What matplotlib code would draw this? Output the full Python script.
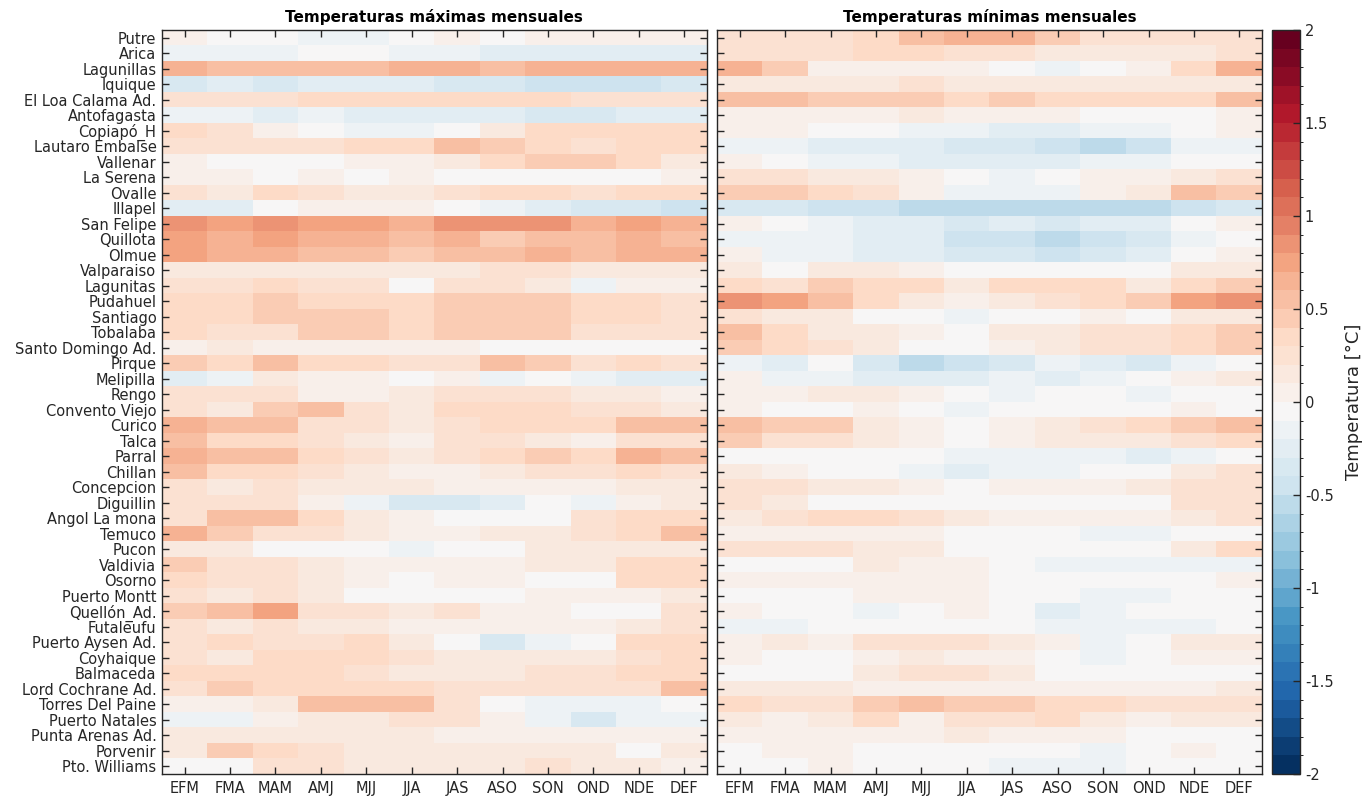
import matplotlib
matplotlib.use('Agg')
import matplotlib.pyplot as plt
import numpy as np
from matplotlib.colors import ListedColormap, BoundaryNorm

from matplotlib import rcParams
rcParams['font.family'] = 'DejaVu Sans'
rcParams['font.size'] = 10

estaciones = ['Putre', 'Arica', 'Lagunillas', 'Iquique', 'El Loa Calama Ad.', 'Antofagasta',
              'Copiapó_H', 'Lautaro Embalse', 'Vallenar', 'La Serena', 'Ovalle', 'Illapel',
              'San Felipe', 'Quillota', 'Olmue', 'Valparaiso', 'Lagunitas', 'Pudahuel',
              'Santiago', 'Tobalaba', 'Santo Domingo Ad.', 'Pirque', 'Melipilla', 'Rengo',
              'Convento Viejo', 'Curico', 'Talca', 'Parral', 'Chillan', 'Concepcion',
              'Diguillin', 'Angol La mona', 'Temuco', 'Pucon', 'Valdivia', 'Osorno',
              'Puerto Montt', 'Quellón_Ad.', 'Futaleufu', 'Puerto Aysen Ad.', 'Coyhaique',
              'Balmaceda', 'Lord Cochrane Ad.', 'Torres Del Paine', 'Puerto Natales',
              'Punta Arenas Ad.', 'Porvenir', 'Pto. Williams']

trimestres = ['EFM', 'FMA', 'MAM', 'AMJ', 'MJJ', 'JJA', 'JAS', 'ASO', 'SON', 'OND', 'NDE', 'DEF']

# anomalias de temperatura maxima (°C), una fila por estacion
tmax = [
    [0.05, -0.05, -0.05, -0.15, -0.15, -0.05, 0.05, -0.05, 0.05, 0.05, 0.05, 0.05],
    [-0.15, -0.15, -0.15, -0.05, -0.05, -0.15, -0.15, -0.25, -0.25, -0.25, -0.25, -0.25],
    [0.65, 0.55, 0.55, 0.55, 0.55, 0.65, 0.65, 0.55, 0.65, 0.65, 0.65, 0.65],
    [-0.35, -0.25, -0.35, -0.25, -0.25, -0.25, -0.35, -0.35, -0.45, -0.45, -0.45, -0.35],
    [0.25, 0.25, 0.25, 0.35, 0.35, 0.35, 0.35, 0.35, 0.35, 0.25, 0.25, 0.25],
    [-0.15, -0.15, -0.25, -0.15, -0.25, -0.25, -0.25, -0.25, -0.35, -0.35, -0.25, -0.25],
    [0.35, 0.25, 0.05, -0.05, -0.15, -0.15, -0.05, 0.15, 0.35, 0.35, 0.35, 0.35],
    [0.25, 0.25, 0.25, 0.25, 0.35, 0.35, 0.55, 0.45, 0.35, 0.25, 0.35, 0.35],
    [0.05, -0.05, -0.05, -0.05, 0.05, 0.05, 0.15, 0.35, 0.45, 0.45, 0.35, 0.15],
    [0.05, 0.05, -0.05, 0.05, -0.05, 0.05, -0.05, -0.05, -0.05, -0.05, -0.05, 0.05],
    [0.25, 0.15, 0.35, 0.25, 0.15, 0.15, 0.25, 0.35, 0.35, 0.25, 0.35, 0.35],
    [-0.25, -0.25, -0.05, 0.05, 0.05, 0.05, -0.05, -0.15, -0.25, -0.35, -0.35, -0.45],
    [0.85, 0.75, 0.85, 0.75, 0.75, 0.65, 0.85, 0.85, 0.85, 0.65, 0.75, 0.65],
    [0.75, 0.65, 0.75, 0.65, 0.65, 0.55, 0.65, 0.45, 0.55, 0.55, 0.65, 0.55],
    [0.75, 0.65, 0.65, 0.55, 0.55, 0.45, 0.55, 0.55, 0.65, 0.55, 0.65, 0.65],
    [0.15, 0.15, 0.15, 0.15, 0.15, 0.15, 0.15, 0.25, 0.25, 0.15, 0.15, 0.15],
    [0.25, 0.25, 0.35, 0.25, 0.25, -0.05, 0.25, 0.25, 0.15, -0.15, 0.05, 0.05],
    [0.35, 0.35, 0.45, 0.35, 0.35, 0.35, 0.45, 0.45, 0.45, 0.35, 0.35, 0.25],
    [0.35, 0.35, 0.45, 0.45, 0.45, 0.35, 0.45, 0.45, 0.45, 0.35, 0.35, 0.25],
    [0.35, 0.25, 0.25, 0.45, 0.45, 0.35, 0.45, 0.45, 0.45, 0.25, 0.25, 0.25],
    [0.05, 0.15, 0.05, 0.05, 0.05, 0.05, 0.05, -0.05, -0.05, -0.05, -0.05, -0.05],
    [0.45, 0.35, 0.55, 0.35, 0.35, 0.25, 0.25, 0.55, 0.45, 0.25, 0.35, 0.25],
    [-0.25, -0.15, 0.15, 0.05, 0.05, -0.05, 0.05, -0.15, -0.05, -0.15, -0.25, -0.25],
    [0.25, 0.25, 0.25, 0.05, 0.05, 0.15, 0.25, 0.25, 0.25, 0.15, 0.15, 0.05],
    [0.25, 0.15, 0.45, 0.55, 0.25, 0.15, 0.35, 0.35, 0.35, 0.25, 0.25, 0.15],
    [0.65, 0.55, 0.55, 0.25, 0.25, 0.15, 0.25, 0.35, 0.35, 0.35, 0.55, 0.55],
    [0.55, 0.35, 0.35, 0.25, 0.15, 0.05, 0.25, 0.25, 0.15, 0.05, 0.25, 0.25],
    [0.65, 0.55, 0.55, 0.35, 0.25, 0.15, 0.25, 0.35, 0.45, 0.35, 0.65, 0.55],
    [0.55, 0.35, 0.35, 0.25, 0.15, 0.05, 0.05, 0.15, 0.25, 0.25, 0.35, 0.25],
    [0.25, 0.15, 0.25, 0.15, 0.15, 0.15, 0.05, 0.05, 0.05, 0.05, 0.15, 0.15],
    [0.25, 0.25, 0.25, 0.05, -0.15, -0.35, -0.35, -0.25, -0.05, -0.15, 0.05, 0.15],
    [0.25, 0.55, 0.55, 0.35, 0.15, 0.05, -0.05, -0.05, -0.05, 0.25, 0.35, 0.35],
    [0.65, 0.45, 0.25, 0.25, 0.15, 0.05, 0.05, 0.15, 0.15, 0.25, 0.35, 0.55],
    [0.15, 0.15, -0.05, -0.05, -0.05, -0.15, -0.05, -0.05, 0.15, 0.15, 0.15, 0.15],
    [0.45, 0.25, 0.25, 0.15, 0.05, 0.05, 0.05, 0.05, 0.15, 0.15, 0.35, 0.35],
    [0.35, 0.25, 0.25, 0.15, 0.05, -0.05, 0.05, 0.05, -0.05, -0.05, 0.35, 0.35],
    [0.25, 0.15, 0.25, 0.15, -0.05, -0.05, -0.05, -0.05, 0.05, 0.05, 0.05, 0.15],
    [0.45, 0.55, 0.75, 0.25, 0.25, 0.15, 0.25, 0.05, 0.05, -0.05, -0.05, 0.25],
    [0.25, 0.15, 0.25, 0.15, 0.15, 0.05, 0.05, 0.05, 0.05, 0.05, 0.15, 0.25],
    [0.25, 0.35, 0.25, 0.25, 0.35, 0.15, -0.05, -0.35, -0.15, -0.05, 0.35, 0.35],
    [0.25, 0.15, 0.35, 0.35, 0.35, 0.25, 0.15, 0.15, 0.15, 0.15, 0.25, 0.35],
    [0.35, 0.35, 0.35, 0.35, 0.25, 0.15, 0.15, 0.15, 0.25, 0.25, 0.35, 0.35],
    [0.25, 0.45, 0.35, 0.35, 0.35, 0.35, 0.25, 0.25, 0.25, 0.25, 0.25, 0.55],
    [0.05, 0.05, 0.15, 0.55, 0.55, 0.55, 0.25, -0.05, -0.15, -0.15, -0.15, -0.05],
    [-0.15, -0.15, 0.05, 0.15, 0.15, 0.25, 0.25, 0.05, -0.15, -0.35, -0.15, -0.15],
    [0.15, 0.15, 0.15, 0.15, 0.15, 0.15, 0.05, 0.05, 0.05, 0.05, 0.05, 0.05],
    [0.15, 0.45, 0.35, 0.25, 0.15, 0.15, 0.15, 0.15, 0.15, 0.15, -0.05, 0.15],
    [-0.05, -0.05, 0.25, 0.25, 0.15, 0.15, 0.15, 0.15, 0.25, 0.15, 0.15, 0.05],
]

# anomalias de temperatura minima (°C)
tmin = [
    [0.25, 0.25, 0.25, 0.35, 0.55, 0.65, 0.65, 0.45, 0.25, 0.25, 0.25, 0.25],
    [0.25, 0.25, 0.25, 0.35, 0.35, 0.25, 0.25, 0.15, 0.15, 0.15, 0.15, 0.25],
    [0.65, 0.45, 0.05, 0.05, 0.05, 0.05, -0.05, -0.15, -0.05, 0.05, 0.35, 0.65],
    [0.15, 0.15, 0.15, 0.15, 0.25, 0.15, 0.15, 0.15, 0.15, 0.15, 0.15, 0.15],
    [0.55, 0.55, 0.45, 0.45, 0.45, 0.35, 0.45, 0.35, 0.35, 0.35, 0.35, 0.55],
    [0.05, 0.05, 0.05, 0.05, 0.15, 0.05, 0.05, 0.05, -0.05, -0.05, -0.05, 0.05],
    [0.05, 0.05, -0.05, -0.05, -0.15, -0.15, -0.25, -0.25, -0.15, -0.15, -0.05, 0.05],
    [-0.15, -0.15, -0.25, -0.25, -0.25, -0.35, -0.35, -0.45, -0.55, -0.45, -0.15, -0.15],
    [0.05, -0.05, -0.15, -0.15, -0.25, -0.25, -0.25, -0.25, -0.15, -0.15, -0.05, -0.05],
    [0.25, 0.25, 0.15, 0.15, 0.05, -0.05, -0.15, -0.05, 0.05, 0.05, 0.15, 0.25],
    [0.45, 0.45, 0.35, 0.25, 0.05, -0.15, -0.15, -0.15, 0.05, 0.15, 0.55, 0.45],
    [-0.35, -0.35, -0.45, -0.45, -0.55, -0.55, -0.55, -0.55, -0.55, -0.55, -0.45, -0.35],
    [0.05, -0.05, -0.15, -0.25, -0.25, -0.35, -0.25, -0.35, -0.25, -0.25, -0.05, 0.05],
    [-0.15, -0.15, -0.15, -0.25, -0.25, -0.45, -0.45, -0.55, -0.45, -0.35, -0.15, -0.05],
    [0.05, -0.15, -0.15, -0.25, -0.25, -0.35, -0.35, -0.45, -0.35, -0.25, -0.05, 0.05],
    [0.15, -0.05, 0.15, 0.15, 0.05, -0.05, -0.05, -0.05, -0.05, -0.05, 0.15, 0.15],
    [0.35, 0.25, 0.45, 0.35, 0.35, 0.15, 0.35, 0.35, 0.35, 0.15, 0.35, 0.45],
    [0.85, 0.75, 0.55, 0.35, 0.15, 0.05, 0.15, 0.25, 0.35, 0.45, 0.75, 0.85],
    [0.25, 0.15, 0.15, -0.05, -0.05, -0.15, -0.05, -0.05, 0.05, -0.05, 0.15, 0.15],
    [0.55, 0.35, 0.15, 0.15, 0.05, -0.05, 0.15, 0.15, 0.25, 0.25, 0.35, 0.45],
    [0.45, 0.35, 0.25, 0.15, -0.05, -0.05, 0.05, 0.15, 0.25, 0.25, 0.35, 0.45],
    [-0.15, -0.25, -0.05, -0.35, -0.55, -0.45, -0.35, -0.15, -0.25, -0.35, -0.15, -0.05],
    [0.05, -0.15, -0.15, -0.25, -0.25, -0.25, -0.15, -0.25, -0.15, -0.05, 0.05, 0.15],
    [0.05, 0.05, 0.15, 0.15, 0.05, -0.05, -0.15, -0.05, -0.05, -0.15, -0.05, -0.05],
    [0.05, -0.05, -0.05, 0.05, -0.05, -0.15, -0.05, -0.05, -0.05, -0.05, 0.05, -0.05],
    [0.55, 0.45, 0.45, 0.15, 0.05, -0.05, 0.05, 0.15, 0.25, 0.35, 0.45, 0.55],
    [0.45, 0.25, 0.25, 0.15, 0.05, -0.05, 0.05, 0.15, 0.15, 0.15, 0.25, 0.35],
    [-0.05, -0.05, -0.05, -0.05, -0.05, -0.15, -0.15, -0.15, -0.15, -0.25, -0.15, -0.05],
    [0.15, 0.05, -0.05, -0.05, -0.15, -0.25, -0.15, -0.15, -0.05, -0.05, 0.15, 0.25],
    [0.25, 0.25, 0.15, 0.15, 0.05, -0.05, 0.05, 0.05, 0.05, 0.15, 0.25, 0.25],
    [0.25, 0.15, -0.05, -0.05, -0.05, -0.05, -0.05, -0.05, -0.05, -0.05, 0.25, 0.25],
    [0.15, 0.25, 0.35, 0.35, 0.25, 0.15, 0.05, 0.05, 0.05, 0.05, 0.15, 0.25],
    [0.05, 0.05, 0.05, 0.05, 0.05, -0.05, -0.05, -0.05, -0.15, -0.15, -0.05, -0.05],
    [0.25, 0.25, 0.25, 0.15, 0.15, -0.05, -0.05, -0.05, -0.05, -0.05, 0.15, 0.35],
    [-0.05, -0.05, -0.05, 0.15, 0.05, 0.05, -0.05, -0.15, -0.15, -0.15, -0.15, -0.15],
    [0.05, 0.05, 0.05, 0.05, 0.05, 0.05, -0.05, -0.05, -0.05, -0.05, -0.05, 0.05],
    [-0.05, -0.05, -0.05, 0.05, 0.05, 0.05, -0.05, -0.05, -0.15, -0.15, -0.05, -0.05],
    [0.05, -0.05, -0.05, -0.15, -0.05, 0.05, -0.05, -0.25, -0.15, -0.05, -0.05, -0.05],
    [-0.15, -0.15, -0.05, -0.05, -0.05, -0.05, -0.05, -0.15, -0.15, -0.15, -0.15, -0.05],
    [0.05, 0.15, 0.05, 0.25, 0.25, 0.25, 0.15, 0.05, -0.15, -0.05, 0.15, 0.15],
    [0.05, -0.05, -0.05, 0.05, 0.15, 0.05, 0.05, -0.05, -0.15, -0.05, 0.05, 0.05],
    [-0.05, -0.05, -0.05, 0.15, 0.25, 0.25, 0.15, -0.05, -0.05, -0.05, -0.05, -0.05],
    [0.15, 0.15, 0.15, 0.05, 0.05, 0.05, 0.05, 0.05, 0.05, 0.05, 0.05, 0.15],
    [0.35, 0.25, 0.25, 0.45, 0.55, 0.45, 0.45, 0.35, 0.35, 0.25, 0.25, 0.25],
    [0.15, 0.05, 0.15, 0.35, 0.05, 0.25, 0.25, 0.35, 0.15, 0.05, 0.15, 0.15],
    [0.05, 0.05, 0.05, 0.05, 0.05, 0.15, 0.05, 0.05, 0.05, -0.05, -0.05, -0.05],
    [-0.05, 0.05, 0.05, -0.05, -0.05, -0.05, -0.05, -0.05, -0.15, -0.05, 0.05, -0.05],
    [-0.05, -0.05, 0.05, -0.05, -0.05, -0.05, -0.15, -0.15, -0.15, -0.05, -0.05, -0.05],
]

# colormap de 40 niveles (0.1 °C), blanco justo bajo cero como en el original
base = plt.get_cmap('RdBu_r')
pos = np.concatenate([np.linspace(0, 0.5, 20), 0.5 + np.arange(1, 21) / 20 * 0.5])
cmap = ListedColormap(base(pos))
niveles = np.linspace(-2, 2, 41)
norm = BoundaryNorm(niveles, cmap.N)

texto = '#262626'


def dibujar_mapa(ax, datos, titulo, etiquetas_y):
    im = ax.imshow(np.array(datos), cmap=cmap, norm=norm, aspect='auto',
                   interpolation='nearest')
    ax.set_xticks(range(len(trimestres)))
    ax.set_xticklabels(trimestres)
    ax.set_yticks(range(len(estaciones)))
    if etiquetas_y:
        ax.set_yticklabels(estaciones)
    else:
        ax.set_yticklabels([])
    ax.tick_params(direction='in', top=True, right=True, length=5, width=1,
                   colors=texto, labelsize=10.5, pad=4)
    ax.tick_params(axis='x', pad=5)
    for s in ax.spines.values():
        s.set_color(texto)
        s.set_linewidth(1)
    ax.set_title(titulo, fontsize=11, fontweight='bold', color='black', pad=6)
    return im


fig = plt.figure(figsize=(13.7, 7.98), dpi=100)
ax1 = fig.add_axes([0.1182, 0.0301, 0.3978, 0.9323])
ax2 = fig.add_axes([0.5234, 0.0301, 0.3978, 0.9323])
cax = fig.add_axes([0.9285, 0.0301, 0.0204, 0.9323])

dibujar_mapa(ax1, tmax, 'Temperaturas máximas mensuales', True)
im = dibujar_mapa(ax2, tmin, 'Temperaturas mínimas mensuales', False)

cb = fig.colorbar(im, cax=cax, ticks=np.arange(-2, 2.01, 0.5))
cb.ax.set_yticklabels(['-2', '-1.5', '-1', '-0.5', '0', '0.5', '1', '1.5', '2'])
cb.ax.tick_params(direction='in', length=5, width=1, colors=texto, labelsize=10.5)
cb.outline.set_edgecolor(texto)
cb.outline.set_linewidth(1)
cb.set_label('Temperatura [°C]', fontsize=13, color=texto, labelpad=8)

fig.savefig('out.png', dpi=100)
